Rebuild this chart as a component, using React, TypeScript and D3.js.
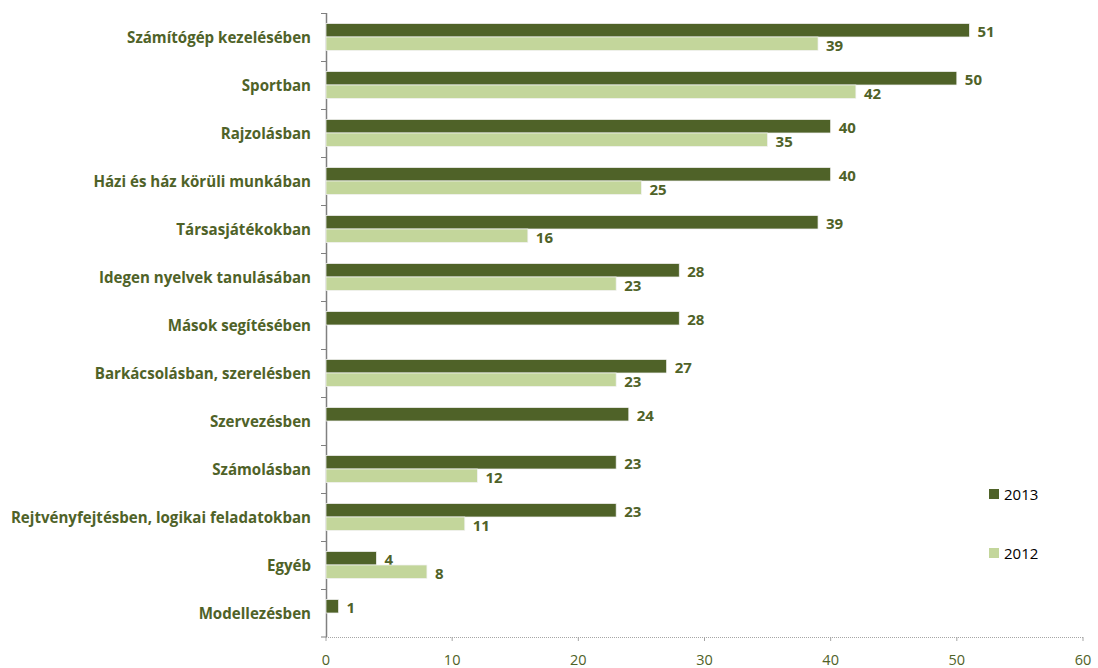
import React from "react";
import * as d3 from "d3";

const categories = [
  "Számítógép kezelésében",
  "Sportban",
  "Rajzolásban",
  "Házi és ház körüli munkában",
  "Társasjátékokban",
  "Idegen nyelvek tanulásában",
  "Mások segítésében",
  "Barkácsolásban, szerelésben",
  "Szervezésben",
  "Számolásban",
  "Rejtvényfejtésben, logikai feladatokban",
  "Egyéb",
  "Modellezésben",
];
const values2013: (number | null)[] = [51, 50, 40, 40, 39, 28, 28, 27, 24, 23, 23, 4, 1];
const values2012: (number | null)[] = [39, 42, 35, 25, 16, 23, null, 23, null, 12, 11, 8, null];
const seriesNames = ["2013", "2012"];
const seriesColors = ["#4F6228", "#C3D69B"];
const xTicks = [0, 10, 20, 30, 40, 50, 60];

const W = 1098;
const H = 668;
const left = 326;
const right = 1083;
const top = 13;
const bottom = 637;
const textColor = "#4F6228";
const font = "'Open Sans', sans-serif";

export default function App() {
  const x = d3.scaleLinear().domain([0, 60]).range([left, right]);
  const y = d3.scaleBand<string>().domain(categories).range([top, bottom]).padding(0);
  const sub = d3
    .scaleBand<string>()
    .domain(seriesNames)
    .range([0, y.bandwidth()])
    .paddingInner(0)
    .paddingOuter(0.78);
  const data = [values2013, values2012];

  return (
    <svg
      width={W}
      height={H}
      style={{ position: "absolute", left: 0, top: 0, background: "#fff" }}
      fontFamily={font}
    >
      {/* x axis dotted line */}
      <line x1={left} x2={right} y1={bottom + 0.5} y2={bottom + 0.5} stroke="#a6a6a6" strokeWidth={1} strokeDasharray="1,1" />
      {xTicks.map((t) => (
        <g key={t}>
          <line x1={x(t)} x2={x(t)} y1={bottom} y2={bottom + 4} stroke="#a6a6a6" strokeWidth={1} />
          <text x={x(t)} y={665} textAnchor="middle" fontSize={14.5} fill={textColor}>
            {t}
          </text>
        </g>
      ))}
      {/* y axis */}
      <line x1={left + 0.5} x2={left + 0.5} y1={top} y2={bottom} stroke="#808080" strokeWidth={1.5} />
      {categories.map((c, i) => (
        <line key={"t" + i} x1={left - 5} x2={left} y1={(y(c) as number) + 0.5} y2={(y(c) as number) + 0.5} stroke="#808080" strokeWidth={1} />
      ))}
      <line x1={left - 5} x2={left} y1={bottom} y2={bottom} stroke="#808080" strokeWidth={1} />
      {/* category labels */}
      {categories.map((c) => (
        <text
          key={c}
          x={311}
          y={(y(c) as number) + y.bandwidth() / 2 - 0.5}
          textAnchor="end"
          dominantBaseline="central"
          fontSize={15.1}
          fontWeight={700}
          fill={textColor}
        >
          {c}
        </text>
      ))}
      {/* bars */}
      {data.map((vals, si) =>
        categories.map((c, i) => {
          const v = vals[i];
          if (v == null) return null;
          const by = (y(c) as number) + (sub(seriesNames[si]) as number);
          const bh = sub.bandwidth();
          return (
            <g key={si + "-" + i}>
              <rect
                x={x(0)}
                y={by}
                width={x(v) - x(0)}
                height={bh}
                fill={seriesColors[si]}
                stroke="#f2f2f2"
                strokeWidth={0.75}
              />
              <text
                x={x(v) + 8}
                y={by + bh / 2 + 1}
                dominantBaseline="central"
                fontSize={15}
                fontWeight={700}
                fill={textColor}
              >
                {v}
              </text>
            </g>
          );
        })
      )}
      {/* legend */}
      {seriesNames.map((s, i) => (
        <g key={s} transform={`translate(989, ${489 + i * 59})`}>
          <rect width={10} height={10} fill={seriesColors[i]} />
          <text x={15} y={5} dominantBaseline="central" fontSize={15} fill="#000">
            {s}
          </text>
        </g>
      ))}
    </svg>
  );
}
